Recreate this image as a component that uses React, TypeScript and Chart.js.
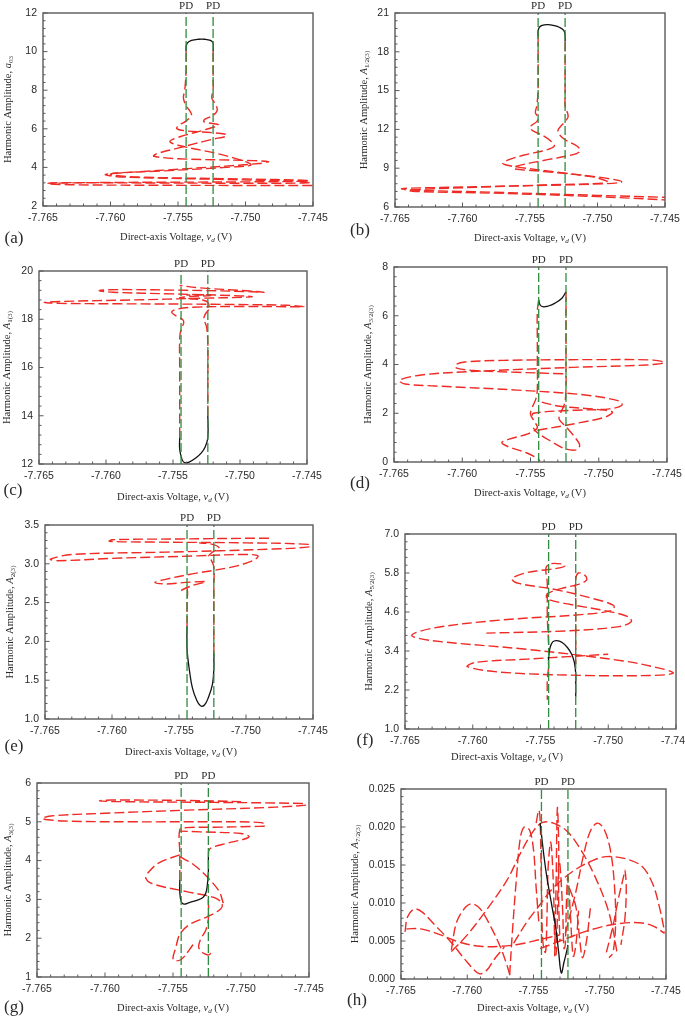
import { useEffect, useRef } from 'react';
import { Chart, registerables } from 'chart.js';

Chart.register(...registerables);

type Pt = [number, number];

// ---------- shared axis data ----------
const X_MIN = -7.765;
const X_MAX = -7.745;
const X_TICKS = [-7.765, -7.76, -7.755, -7.75, -7.745];
const PD_X = [-7.7544, -7.7524];
const PD_LABEL = 'PD';

// ---------- (a) a03 ----------
const A_Y_TICKS = [2, 4, 6, 8, 10, 12];
const A_STABLE: Pt[] = [[-7.7544, 10.0], [-7.7544, 10.25], [-7.7543, 10.45], [-7.754, 10.58], [-7.7535, 10.64], [-7.753, 10.64], [-7.7526, 10.58], [-7.7524, 10.45], [-7.7524, 10.0]];
const A_RED_L: Pt[] = [[-7.7544, 10.0], [-7.7544, 9.0], [-7.7545, 8.0], [-7.7546, 7.6], [-7.7544, 7.2], [-7.7541, 6.9], [-7.754, 6.7], [-7.7544, 6.4], [-7.7549, 6.2], [-7.7551, 6.02], [-7.7545, 5.9], [-7.7525, 5.8], [-7.7515, 5.72], [-7.7514, 5.62], [-7.7525, 5.45], [-7.755, 5.0], [-7.7566, 4.7], [-7.7568, 4.58], [-7.755, 4.45], [-7.75, 4.36], [-7.7483, 4.3], [-7.749, 4.2], [-7.754, 3.95], [-7.759, 3.72], [-7.7604, 3.62], [-7.759, 3.5], [-7.752, 3.38], [-7.746, 3.28], [-7.7452, 3.22], [-7.747, 3.18], [-7.756, 3.19], [-7.764, 3.21], [-7.7647, 3.16], [-7.763, 3.1], [-7.754, 3.07], [-7.745, 3.06]];
const A_RED_R: Pt[] = [[-7.7524, 10.0], [-7.7524, 9.0], [-7.7524, 8.0], [-7.7525, 7.6], [-7.7522, 7.25], [-7.7521, 6.95], [-7.7524, 6.7], [-7.753, 6.5], [-7.7531, 6.38], [-7.7527, 6.3], [-7.752, 6.2], [-7.753, 5.95], [-7.7548, 5.6], [-7.7556, 5.35], [-7.755, 5.15], [-7.752, 4.7], [-7.75, 4.3], [-7.7496, 4.12], [-7.751, 4.02], [-7.756, 3.82], [-7.7598, 3.7], [-7.76, 3.62], [-7.758, 3.5], [-7.75, 3.4], [-7.7455, 3.33], [-7.7453, 3.29], [-7.75, 3.25], [-7.76, 3.22], [-7.7645, 3.18]];

// ---------- (b) A1/2(3) ----------
const B_Y_TICKS = [6, 9, 12, 15, 18, 21];
const B_STABLE: Pt[] = [[-7.7544, 19.2], [-7.7544, 19.6], [-7.7543, 19.9], [-7.7541, 20.05], [-7.7537, 20.1], [-7.7532, 20.02], [-7.7528, 19.88], [-7.7525, 19.65], [-7.7524, 19.3], [-7.7524, 18.8]];
const B_RED_L: Pt[] = [[-7.7544, 19.2], [-7.7544, 17.0], [-7.7544, 15.0], [-7.7545, 13.8], [-7.7546, 13.3], [-7.7544, 12.9], [-7.7545, 12.6], [-7.7549, 12.3], [-7.755, 12.1], [-7.7548, 11.9], [-7.754, 11.5], [-7.7534, 11.05], [-7.7532, 10.7], [-7.7538, 10.4], [-7.7555, 10.0], [-7.7567, 9.6], [-7.757, 9.35], [-7.756, 9.1], [-7.753, 8.7], [-7.7495, 8.25], [-7.7482, 7.95], [-7.7495, 7.8], [-7.755, 7.65], [-7.762, 7.5], [-7.7645, 7.42], [-7.764, 7.32], [-7.758, 7.15], [-7.75, 6.9], [-7.745, 6.75]];
const B_RED_R: Pt[] = [[-7.7524, 18.8], [-7.7524, 16.5], [-7.7524, 14.5], [-7.7524, 13.8], [-7.7522, 13.2], [-7.7522, 12.9], [-7.7525, 12.5], [-7.7529, 12.0], [-7.7529, 11.7], [-7.7524, 11.2], [-7.7515, 10.7], [-7.7513, 10.3], [-7.752, 10.0], [-7.754, 9.6], [-7.756, 9.15], [-7.7562, 8.95], [-7.754, 8.75], [-7.7505, 8.35], [-7.7493, 8.0], [-7.7495, 7.85], [-7.754, 7.7], [-7.761, 7.45], [-7.764, 7.3], [-7.7635, 7.2], [-7.757, 7.05], [-7.75, 6.8], [-7.745, 6.55]];

// ---------- (c) A1(3) ----------
const C_Y_TICKS = [12, 14, 16, 18, 20];
const C_STABLE: Pt[] = [[-7.7545, 13.1], [-7.7545, 12.6], [-7.7543, 12.15], [-7.7541, 12.05], [-7.7538, 12.08], [-7.7533, 12.25], [-7.7529, 12.45], [-7.7526, 12.7], [-7.7524, 13.1], [-7.7524, 14.0]];
const C_RED_L: Pt[] = [[-7.7545, 13.1], [-7.7545, 14.5], [-7.7545, 16.0], [-7.7545, 17.2], [-7.7544, 17.6], [-7.7542, 17.85], [-7.7543, 18.0], [-7.7548, 18.15], [-7.7551, 18.3], [-7.7547, 18.42], [-7.7535, 18.5], [-7.75, 18.53], [-7.7465, 18.52], [-7.7452, 18.52], [-7.7465, 18.58], [-7.752, 18.62], [-7.759, 18.64], [-7.7635, 18.66], [-7.7646, 18.7], [-7.7632, 18.74], [-7.758, 18.8], [-7.753, 18.87], [-7.7498, 18.91], [-7.7491, 18.94], [-7.7505, 18.98], [-7.755, 19.05], [-7.7595, 19.12], [-7.7605, 19.19], [-7.759, 19.23], [-7.754, 19.2], [-7.7495, 19.15], [-7.7482, 19.12], [-7.7495, 19.18], [-7.753, 19.3], [-7.7545, 19.4]];
const C_RED_R: Pt[] = [[-7.7524, 14.0], [-7.7524, 15.5], [-7.7524, 17.0], [-7.7525, 17.7], [-7.7527, 18.0], [-7.7526, 18.2], [-7.7523, 18.45], [-7.7524, 18.7], [-7.7528, 18.8], [-7.7537, 18.85], [-7.7545, 18.9], [-7.7535, 18.95], [-7.7522, 18.98], [-7.7525, 19.02], [-7.754, 19.0]];

// ---------- (d) A3/2(3) ----------
const D_Y_TICKS = [0, 2, 4, 6, 8];
const D_STABLE: Pt[] = [[-7.7544, 6.65], [-7.7543, 6.45], [-7.7541, 6.37], [-7.7537, 6.4], [-7.7532, 6.52], [-7.7527, 6.72], [-7.7524, 6.98]];
const D_RED_L: Pt[] = [[-7.7544, 6.65], [-7.7545, 6.2], [-7.7545, 5.0], [-7.7545, 4.0], [-7.7545, 3.0], [-7.7546, 2.6], [-7.7549, 2.2], [-7.755, 1.95], [-7.7547, 1.65], [-7.7545, 1.4], [-7.7552, 1.15], [-7.7565, 0.95], [-7.7571, 0.8], [-7.7566, 0.62], [-7.7553, 0.38], [-7.7545, 0.15], [-7.7543, 0.05]];
const D_RED_R: Pt[] = [[-7.7524, 6.98], [-7.7524, 6.0], [-7.7524, 5.0], [-7.7524, 4.0], [-7.7524, 3.0], [-7.7525, 2.4], [-7.7528, 2.0], [-7.7529, 1.75], [-7.7524, 1.45], [-7.7518, 1.05], [-7.7514, 0.7], [-7.7516, 0.5], [-7.7525, 0.55], [-7.7535, 0.85], [-7.7545, 1.2], [-7.7548, 1.4]];
const D_RED_S: Pt[] = [[-7.7526, 3.62], [-7.756, 3.68], [-7.759, 3.75], [-7.7604, 3.85], [-7.7605, 3.98], [-7.7598, 4.1], [-7.757, 4.17], [-7.75, 4.2], [-7.746, 4.18], [-7.7452, 4.08], [-7.7465, 3.98], [-7.752, 3.88], [-7.759, 3.72], [-7.763, 3.57], [-7.7646, 3.35], [-7.7642, 3.2], [-7.762, 3.12], [-7.756, 2.95], [-7.751, 2.75], [-7.7485, 2.5], [-7.7483, 2.33], [-7.7492, 2.18], [-7.752, 2.12], [-7.7548, 2.0], [-7.7549, 1.85]];
const D_RED_T: Pt[] = [[-7.7545, 1.3], [-7.7515, 1.6], [-7.7495, 1.85], [-7.749, 2.05], [-7.75, 2.15], [-7.753, 2.3], [-7.7545, 2.5]];

// ---------- (e) A2(3) ----------
const E_Y_TICKS = [1.0, 1.5, 2.0, 2.5, 3.0, 3.5];
const E_STABLE: Pt[] = [[-7.7544, 2.2], [-7.7544, 1.9], [-7.7542, 1.6], [-7.754, 1.4], [-7.7537, 1.25], [-7.7534, 1.17], [-7.7531, 1.18], [-7.7528, 1.28], [-7.7525, 1.45], [-7.7524, 1.65], [-7.7524, 1.85]];
const E_RED_L: Pt[] = [[-7.7544, 2.2], [-7.7544, 2.5], [-7.7544, 2.68], [-7.7548, 2.66], [-7.754, 2.72], [-7.753, 2.77], [-7.7545, 2.76], [-7.756, 2.74], [-7.7568, 2.76], [-7.756, 2.8], [-7.754, 2.87], [-7.751, 2.96], [-7.7495, 3.04], [-7.7491, 3.1], [-7.75, 3.12], [-7.754, 3.1], [-7.76, 3.07], [-7.764, 3.04], [-7.7646, 3.06], [-7.763, 3.12], [-7.756, 3.15], [-7.748, 3.19], [-7.7452, 3.22], [-7.7453, 3.25], [-7.75, 3.27], [-7.757, 3.28], [-7.7602, 3.29], [-7.76, 3.31], [-7.755, 3.32], [-7.749, 3.33], [-7.7481, 3.33]];
const E_RED_R: Pt[] = [[-7.7524, 1.85], [-7.7524, 2.3], [-7.7524, 2.7], [-7.7524, 2.96], [-7.7526, 3.05], [-7.7528, 3.1], [-7.7525, 3.15], [-7.752, 3.2], [-7.7525, 3.25], [-7.7535, 3.27]];

// ---------- (f) A5/2(3) ----------
const F_Y_TICKS = [1.0, 2.2, 3.4, 4.6, 5.8, 7.0];
const F_STABLE: Pt[] = [[-7.7544, 2.9], [-7.7544, 3.2], [-7.7543, 3.5], [-7.7541, 3.68], [-7.7538, 3.72], [-7.7534, 3.66], [-7.753, 3.5], [-7.7527, 3.3], [-7.7525, 3.05], [-7.7524, 2.7], [-7.7524, 2.3], [-7.7524, 2.0]];
const F_RED_1: Pt[] = [[-7.7544, 3.6], [-7.7545, 4.5], [-7.7545, 5.5], [-7.7546, 5.95], [-7.7543, 6.08], [-7.7535, 6.08], [-7.7532, 6.02], [-7.7537, 5.95], [-7.755, 5.88], [-7.7563, 5.78], [-7.7571, 5.62], [-7.7566, 5.48], [-7.754, 5.3], [-7.751, 5.0], [-7.7496, 4.8], [-7.7497, 4.65], [-7.752, 4.52], [-7.758, 4.35], [-7.763, 4.1], [-7.7645, 3.88], [-7.763, 3.72], [-7.756, 3.45], [-7.749, 3.1], [-7.746, 2.85], [-7.7452, 2.72], [-7.7465, 2.65], [-7.752, 2.65], [-7.758, 2.75], [-7.7604, 2.92], [-7.7598, 3.05], [-7.756, 3.15], [-7.75, 3.3]];
const F_RED_2: Pt[] = [[-7.7524, 3.0], [-7.7524, 4.0], [-7.7524, 5.0], [-7.7524, 5.6], [-7.7522, 5.8], [-7.7517, 5.72], [-7.7516, 5.58], [-7.7522, 5.45], [-7.7535, 5.32], [-7.7545, 5.15], [-7.7545, 5.0], [-7.753, 4.85], [-7.75, 4.62], [-7.7485, 4.45], [-7.7483, 4.3], [-7.7492, 4.15], [-7.753, 4.02], [-7.759, 3.95]];
const F_RED_3: Pt[] = [[-7.7544, 2.9], [-7.7545, 2.5], [-7.7545, 2.0], [-7.7545, 1.9]];

// ---------- (g) A3(3) ----------
const G_Y_TICKS = [1, 2, 3, 4, 5, 6];
const G_STABLE: Pt[] = [[-7.7545, 3.5], [-7.7545, 3.2], [-7.7544, 2.95], [-7.7542, 2.88], [-7.7538, 2.92], [-7.7532, 2.98], [-7.7528, 3.05], [-7.7526, 3.15], [-7.7525, 3.3], [-7.7524, 3.7], [-7.7524, 4.1]];
const G_RED_A: Pt[] = [[-7.7545, 3.5], [-7.7545, 4.2], [-7.7545, 4.8], [-7.754, 4.85], [-7.752, 4.86], [-7.749, 4.88], [-7.7482, 4.9], [-7.7485, 4.98], [-7.752, 5.0], [-7.758, 5.0], [-7.763, 5.02], [-7.7646, 5.08], [-7.764, 5.15], [-7.76, 5.22], [-7.754, 5.3], [-7.748, 5.37], [-7.7452, 5.43], [-7.7455, 5.47], [-7.752, 5.5], [-7.759, 5.52], [-7.7604, 5.54], [-7.7595, 5.56], [-7.754, 5.55], [-7.75, 5.52]];
const G_RED_B: Pt[] = [[-7.7524, 4.1], [-7.7523, 4.3], [-7.751, 4.45], [-7.7498, 4.55], [-7.7494, 4.62], [-7.75, 4.7], [-7.753, 4.74], [-7.7545, 4.76]];
const G_RED_C: Pt[] = [[-7.7545, 4.15], [-7.756, 3.95], [-7.7568, 3.7], [-7.757, 3.55], [-7.7565, 3.4], [-7.754, 3.2], [-7.752, 3.05], [-7.7514, 2.9], [-7.7515, 2.75], [-7.7525, 2.55], [-7.7538, 2.35], [-7.7545, 2.1], [-7.7548, 1.75], [-7.755, 1.5], [-7.7549, 1.42], [-7.7544, 1.45], [-7.7538, 1.7], [-7.7534, 1.9]];
const G_RED_D: Pt[] = [[-7.7545, 4.1], [-7.7535, 3.9], [-7.7524, 3.55], [-7.7516, 3.2], [-7.7513, 2.9]];
const G_RED_E: Pt[] = [[-7.7524, 3.0], [-7.7524, 2.5], [-7.7526, 2.2], [-7.753, 1.95], [-7.7531, 1.75], [-7.7527, 1.6], [-7.7523, 1.58], [-7.7522, 1.7]];

// ---------- (h) A7/2(3) ----------
const H_Y_TICKS = [0, 0.005, 0.01, 0.015, 0.02, 0.025];
const H_STABLE: Pt[] = [[-7.7545, 0.0205], [-7.7544, 0.019], [-7.7542, 0.016], [-7.754, 0.0135], [-7.7536, 0.0095], [-7.7533, 0.0065], [-7.7531, 0.0035], [-7.7529, 0.0008], [-7.7527, 0.0022], [-7.7525, 0.0036], [-7.7524, 0.0045]];
const H_RED_1: Pt[] = [[-7.7647, 0.0062], [-7.7645, 0.0082], [-7.764, 0.0092], [-7.7634, 0.0088], [-7.7625, 0.0072], [-7.7612, 0.0048], [-7.76, 0.0022], [-7.7591, 0.0007], [-7.7585, 0.0012], [-7.758, 0.0025], [-7.7572, 0.0042]];
const H_RED_2: Pt[] = [[-7.7612, 0.0038], [-7.7608, 0.0075], [-7.7601, 0.0095], [-7.7596, 0.0099], [-7.759, 0.0092], [-7.7582, 0.0068], [-7.7575, 0.0042], [-7.757, 0.0018], [-7.7568, 0.0006]];
const H_RED_3: Pt[] = [[-7.7646, 0.0066], [-7.7635, 0.0066], [-7.762, 0.0058], [-7.7605, 0.0048], [-7.759, 0.0043], [-7.7575, 0.0043], [-7.756, 0.0046], [-7.7545, 0.0052], [-7.753, 0.0058]];
const H_RED_4: Pt[] = [[-7.7612, 0.0036], [-7.76, 0.0058], [-7.7585, 0.0092], [-7.757, 0.013], [-7.756, 0.0165], [-7.755, 0.0195], [-7.7543, 0.0206], [-7.7535, 0.0205], [-7.7525, 0.0195], [-7.7515, 0.0172], [-7.7505, 0.014], [-7.7495, 0.0098], [-7.749, 0.0065], [-7.7487, 0.0035]];
const H_RED_5: Pt[] = [[-7.7565, 0.0047], [-7.7555, 0.0075], [-7.7545, 0.0098], [-7.7535, 0.012], [-7.752, 0.0142], [-7.7505, 0.0156], [-7.7495, 0.0161], [-7.748, 0.0158], [-7.7468, 0.0148], [-7.746, 0.0125], [-7.7455, 0.0095], [-7.7451, 0.0062]];
const H_RED_6: Pt[] = [[-7.7526, 0.006], [-7.7518, 0.0115], [-7.7512, 0.0165], [-7.7507, 0.0195], [-7.7502, 0.0205], [-7.7497, 0.0198], [-7.7492, 0.017], [-7.7489, 0.0125], [-7.7488, 0.0075], [-7.749, 0.0035], [-7.7493, 0.0028]];
const H_RED_7: Pt[] = [[-7.7545, 0.004], [-7.753, 0.005], [-7.7515, 0.006], [-7.75, 0.0068], [-7.7485, 0.0073], [-7.747, 0.0074], [-7.746, 0.007], [-7.7451, 0.006]];
const H_RED_8: Pt[] = [[-7.7495, 0.0035], [-7.749, 0.007], [-7.7486, 0.0105], [-7.7482, 0.0135], [-7.7481, 0.0143], [-7.748, 0.012], [-7.7481, 0.008], [-7.7484, 0.0045]];
const H_RED_9: Pt[] = [[-7.7568, 0.0005], [-7.7566, 0.006], [-7.7563, 0.013], [-7.756, 0.0185], [-7.7557, 0.02], [-7.7553, 0.0196], [-7.755, 0.017], [-7.7548, 0.012], [-7.7546, 0.0075]];
const H_RED_10: Pt[] = [[-7.7548, 0.0205], [-7.7546, 0.0222], [-7.7545, 0.021], [-7.7544, 0.012], [-7.7543, 0.005], [-7.7541, 0.0035], [-7.754, 0.007], [-7.7539, 0.0145], [-7.7537, 0.018], [-7.7535, 0.0125], [-7.7534, 0.005], [-7.7533, 0.0032], [-7.7532, 0.008], [-7.7531, 0.0155], [-7.753, 0.015], [-7.7528, 0.009], [-7.7527, 0.004], [-7.7526, 0.0045], [-7.7525, 0.011], [-7.7524, 0.0135], [-7.7522, 0.008], [-7.752, 0.003], [-7.7518, 0.0045], [-7.7516, 0.009]];
const H_RED_11: Pt[] = [[-7.7534, 0.003], [-7.7533, 0.012], [-7.7532, 0.0225], [-7.7531, 0.018], [-7.7531, 0.01], [-7.753, 0.005]];
const H_RED_12: Pt[] = [[-7.7523, 0.012], [-7.7518, 0.0095], [-7.7515, 0.005], [-7.7513, 0.0028], [-7.751, 0.005], [-7.7507, 0.0095]];

// ---------- panels ----------
const PANELS = [
  { tag: '(a)', sym: 'a', sub: '03', yTicks: A_Y_TICKS, dec: 0, stable: A_STABLE, unstable: [A_RED_L, A_RED_R] },
  { tag: '(b)', sym: 'A', sub: '1/2(3)', yTicks: B_Y_TICKS, dec: 0, stable: B_STABLE, unstable: [B_RED_L, B_RED_R] },
  { tag: '(c)', sym: 'A', sub: '1(3)', yTicks: C_Y_TICKS, dec: 0, stable: C_STABLE, unstable: [C_RED_L, C_RED_R] },
  { tag: '(d)', sym: 'A', sub: '3/2(3)', yTicks: D_Y_TICKS, dec: 0, stable: D_STABLE, unstable: [D_RED_L, D_RED_R, D_RED_S, D_RED_T] },
  { tag: '(e)', sym: 'A', sub: '2(3)', yTicks: E_Y_TICKS, dec: 1, stable: E_STABLE, unstable: [E_RED_L, E_RED_R] },
  { tag: '(f)', sym: 'A', sub: '5/2(3)', yTicks: F_Y_TICKS, dec: 1, stable: F_STABLE, unstable: [F_RED_1, F_RED_2, F_RED_3] },
  { tag: '(g)', sym: 'A', sub: '3(3)', yTicks: G_Y_TICKS, dec: 0, stable: G_STABLE, unstable: [G_RED_A, G_RED_B, G_RED_C, G_RED_D, G_RED_E] },
  { tag: '(h)', sym: 'A', sub: '7/2(3)', yTicks: H_Y_TICKS, dec: 3, stable: H_STABLE, unstable: [H_RED_1, H_RED_2, H_RED_3, H_RED_4, H_RED_5, H_RED_6, H_RED_7, H_RED_8, H_RED_9, H_RED_10, H_RED_11, H_RED_12] },
];

// page-pixel layout of each panel (plot box, titles, tag)
const LAYOUT = [
  { L: 43, T: 13, R: 313, B: 206, yTitleX: 8, xTitleX: 176, xTitleY: 237, tagX: 14, tagY: 239 },
  { L: 395, T: 13, R: 665, B: 207, yTitleX: 364, xTitleX: 530, xTitleY: 238, tagX: 360, tagY: 231 },
  { L: 39, T: 271, R: 307, B: 464, yTitleX: 7, xTitleX: 173, xTitleY: 497, tagX: 13, tagY: 491 },
  { L: 394, T: 267, R: 667, B: 462, yTitleX: 368, xTitleX: 530, xTitleY: 493, tagX: 360, tagY: 484 },
  { L: 45, T: 525, R: 313, B: 719, yTitleX: 10, xTitleX: 181, xTitleY: 752, tagX: 14, tagY: 747 },
  { L: 405, T: 534, R: 676, B: 729, yTitleX: 369, xTitleX: 507, xTitleY: 757, tagX: 365, tagY: 741, mb: 33 },
  { L: 37, T: 783, R: 309, B: 977, yTitleX: 8, xTitleX: 173, xTitleY: 1008, tagX: 14, tagY: 1008 },
  { L: 401, T: 789, R: 666, B: 979, yTitleX: 355, xTitleX: 533, xTitleY: 1008, tagX: 357, tagY: 1001 },
];

const RED = '#ee2b25';
const GREEN = '#2f8c3e';
const BLACK = '#111111';
const FRAME = '#5a5a5a';
const TEXT = '#2a2a2a';
const SERIF = '"Liberation Serif", "Times New Roman", serif';
const SANS = '"Liberation Sans", Arial, sans-serif';

const ML = 62, MT = 24, MR = 24, MB = 52;

type Seg = { t: string; i?: boolean; s?: boolean };

function drawRich(ctx: CanvasRenderingContext2D, segs: Seg[], cx: number, cy: number, fs: number, rotate: boolean) {
  const fontFor = (s: Seg) => `${s.i ? 'italic ' : ''}${s.s ? fs * 0.68 : fs}px ${SERIF}`;
  ctx.save();
  ctx.translate(cx, cy);
  if (rotate) ctx.rotate(-Math.PI / 2);
  let total = 0;
  for (const s of segs) { ctx.font = fontFor(s); total += ctx.measureText(s.t).width; }
  let x = -total / 2;
  ctx.textAlign = 'left';
  ctx.textBaseline = 'middle';
  ctx.fillStyle = TEXT;
  for (const s of segs) {
    ctx.font = fontFor(s);
    ctx.fillText(s.t, x, s.s ? fs * 0.32 : 0);
    x += ctx.measureText(s.t).width;
  }
  ctx.restore();
}

function withMinor(vals: number[]): [number, boolean][] {
  const out: [number, boolean][] = [];
  for (let i = 0; i < vals.length; i++) {
    out.push([vals[i], true]);
    if (i < vals.length - 1) for (let k = 1; k < 5; k++) out.push([vals[i] + ((vals[i + 1] - vals[i]) * k) / 5, false]);
  }
  return out;
}

function Panel({ p, lay }: { p: any; lay: any }) {
  const ref = useRef<HTMLCanvasElement>(null);
  const mb = lay.mb ?? MB;
  const left = lay.L - ML;
  const top = lay.T - MT;
  const w = lay.R - lay.L + ML + MR;
  const h = lay.B - lay.T + MT + mb;

  useEffect(() => {
    const yMin = p.yTicks[0];
    const yMax = p.yTicks[p.yTicks.length - 1];
    const toXY = (arr: Pt[]) => arr.map(([x, y]) => ({ x, y }));
    const datasets: any[] = [
      ...PD_X.map((x) => ({
        data: [{ x, y: yMin }, { x, y: yMax }],
        borderColor: GREEN, borderWidth: 1.3, borderDash: [9, 3], showLine: true, pointRadius: 0, tension: 0,
      })),
      { data: toXY(p.stable), borderColor: BLACK, borderWidth: 1.3, showLine: true, pointRadius: 0, tension: 0.4 },
      ...p.unstable.map((u: Pt[]) => ({
        data: toXY(u), borderColor: RED, borderWidth: 1.4, borderDash: [10, 4], showLine: true, pointRadius: 0, tension: 0.35,
      })),
    ];
    const ySegs: Seg[] = [{ t: 'Harmonic Amplitude, ' }, { t: p.sym, i: true }, { t: p.sub, s: true }];
    const xSegs: Seg[] = [{ t: 'Direct-axis Voltage, ' }, { t: 'v', i: true }, { t: 'd', i: true, s: true }, { t: ' (V)' }];

    const decor = {
      id: 'decor',
      afterDraw(chart: any) {
        const { ctx, chartArea: a } = chart;
        const xs = chart.scales.x;
        const ys = chart.scales.y;
        ctx.save();
        ctx.strokeStyle = FRAME;
        ctx.lineWidth = 1.4;
        ctx.strokeRect(a.left, a.top, a.right - a.left, a.bottom - a.top);
        ctx.beginPath();
        for (const [v, major] of withMinor(X_TICKS)) {
          const px = xs.getPixelForValue(v);
          ctx.moveTo(px, a.bottom);
          ctx.lineTo(px, a.bottom - (major ? 4.5 : 2.5));
        }
        for (const [v, major] of withMinor(p.yTicks)) {
          const py = ys.getPixelForValue(v);
          ctx.moveTo(a.left, py);
          ctx.lineTo(a.left + (major ? 4.5 : 2.5), py);
        }
        ctx.lineWidth = 1;
        ctx.stroke();
        ctx.fillStyle = TEXT;
        ctx.font = `11px ${SERIF}`;
        ctx.textAlign = 'center';
        ctx.textBaseline = 'middle';
        for (const x of PD_X) ctx.fillText(PD_LABEL, xs.getPixelForValue(x), a.top - 7);
        drawRich(ctx, xSegs, lay.xTitleX - left, lay.xTitleY - top, 10.5, false);
        drawRich(ctx, ySegs, lay.yTitleX - left, (a.top + a.bottom) / 2, 10.5, true);
        ctx.fillStyle = TEXT;
        ctx.font = `17px ${SERIF}`;
        ctx.textAlign = 'center';
        ctx.textBaseline = 'middle';
        ctx.fillText(p.tag, lay.tagX - left, lay.tagY - top);
        ctx.restore();
      },
    };

    const chart = new Chart(ref.current as HTMLCanvasElement, {
      type: 'scatter',
      data: { datasets },
      options: {
        animation: false,
        responsive: false,
        events: [],
        layout: { padding: { left: 0, top: MT, right: MR, bottom: 0 } },
        plugins: { legend: { display: false }, tooltip: { enabled: false } },
        scales: {
          x: {
            type: 'linear', min: X_MIN, max: X_MAX,
            grid: { display: false, drawTicks: false }, border: { display: false },
            ticks: {
              autoSkip: false, maxRotation: 0, padding: 6, color: TEXT,
              font: { family: SANS, size: 10.5 },
              callback: (v: any) => Number(v).toFixed(3),
            },
            afterBuildTicks: (s: any) => { s.ticks = X_TICKS.map((v) => ({ value: v })); },
            afterFit: (s: any) => { s.height = mb; },
          },
          y: {
            type: 'linear', min: yMin, max: yMax,
            grid: { display: false, drawTicks: false }, border: { display: false },
            ticks: {
              autoSkip: false, padding: 6, color: TEXT,
              font: { family: SANS, size: 10.5 },
              callback: (v: any) => Number(v).toFixed(p.dec),
            },
            afterBuildTicks: (s: any) => { s.ticks = p.yTicks.map((v: number) => ({ value: v })); },
            afterFit: (s: any) => { s.width = ML; },
          },
        },
      } as any,
      plugins: [decor],
    });
    return () => chart.destroy();
  }, [p, lay]);

  return <canvas ref={ref} width={w} height={h} style={{ position: 'absolute', left, top }} />;
}

export default function App() {
  return (
    <div style={{ position: 'fixed', left: 0, top: 0, width: 685, height: 1020, overflow: 'hidden', background: '#fff' }}>
      {PANELS.map((p, i) => (
        <Panel key={i} p={p} lay={LAYOUT[i]} />
      ))}
    </div>
  );
}
